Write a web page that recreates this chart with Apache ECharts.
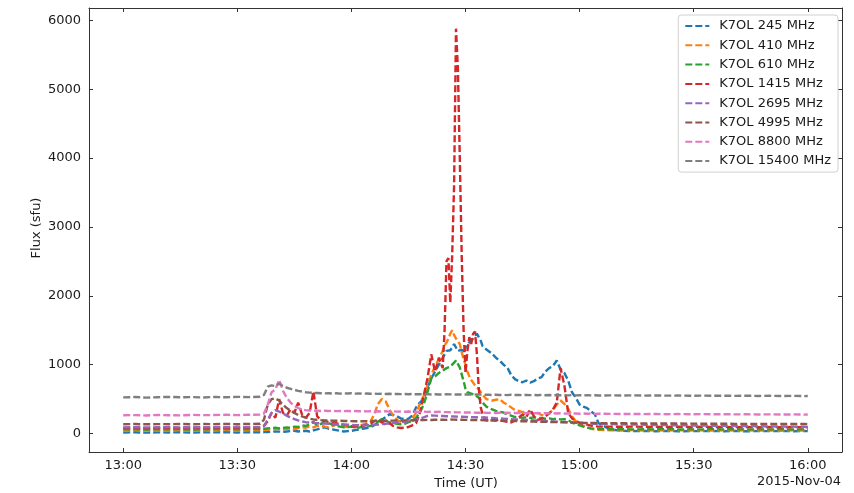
<!DOCTYPE html>
<html>
<head>
<meta charset="utf-8">
<script src="https://cdn.jsdelivr.net/npm/echarts@6/dist/echarts.min.js"></script>
<style>
html,body{margin:0;padding:0;background:#fff;}
#chart{width:854px;height:493px;}
</style>
</head>
<body>
<div id="chart"></div>
<script>
// time in minutes after 13:00 UT
const timeMin = [
  0,3,6,9,12,15,18,21,24,27,30,33,36,
  37,38,39,40,41,42,43,44,45,46,
  47,48,49,50,51,52,53,54,55,56,
  57,58,59,60,61,62,63,64,65,66,
  67,68,69,70,71,72,73,74,75,76,
  77,78,79,80,81,82,83,
  84,84.5,85,85.5,86,86.5,87,87.5,88,88.5,89,89.5,90,90.5,91,91.5,92,92.5,93,93.5,94,94.5,95,95.5,
  96,97,98,99,100,101,102,103,104,105,106,107,108,109,110,111,112,113,114,115,116,117,118,119,120,121,122,123,124,125,
  128,131,134,137,140,143,146,149,152,155,158,161,164,167,170,173,176,179,180
];
const xTickValues = [0,30,60,90,120,150,180];
const xTickLabels = ['13:00','13:30','14:00','14:30','15:00','15:30','16:00'];
const yTickValues = [0,1000,2000,3000,4000,5000,6000];
const yTickLabels = ['0','1000','2000','3000','4000','5000','6000'];
const seriesNames = ['K7OL 245 MHz','K7OL 410 MHz','K7OL 610 MHz','K7OL 1415 MHz','K7OL 2695 MHz','K7OL 4995 MHz','K7OL 8800 MHz','K7OL 15400 MHz'];
const seriesColors = ['#1f77b4','#ff7f0e','#2ca02c','#d62728','#9467bd','#8c564b','#e377c2','#7f7f7f'];

const flux245 = [
  15,18,13,17,16,19,14,18,17,20,16,19,18,
  20,22,25,30,28,25,30,35,40,30,
  35,40,30,45,60,80,90,70,60,50,
  40,30,35,40,50,60,70,80,90,120,
  160,200,240,280,270,250,220,210,215,260,
  380,450,500,670,800,900,1000,
  1100,1150,1200,1180,1210,1250,1300,1250,1200,1180,1220,1160,1250,1300,1320,1350,1380,1420,1450,1400,1350,1270,1250,1220,
  1200,1160,1100,1060,1000,960,850,790,760,745,770,740,760,800,820,900,950,980,1060,930,880,770,600,520,420,390,370,320,280,150,
  60,40,35,38,34,37,33,36,35,38,34,37,33,36,35,38,34,37,35
];
const flux410 = [
  45,48,43,47,46,49,44,48,47,50,46,49,48,
  50,55,60,70,65,60,70,75,60,80,
  90,85,100,90,110,120,100,90,110,130,
  110,100,95,100,90,110,130,150,170,280,
  430,500,470,350,260,200,165,160,175,220,
  300,430,550,700,850,980,1080,
  1200,1280,1320,1380,1450,1500,1430,1380,1360,1300,1180,1080,1000,900,830,780,740,700,680,640,600,560,530,500,
  500,480,490,500,450,420,380,340,330,310,320,300,290,300,270,265,300,340,420,480,430,360,250,180,140,110,90,70,60,55,
  48,45,50,44,47,43,49,45,46,42,48,44,47,43,45,41,46,44,45
];
const flux610 = [
  60,63,58,62,61,64,59,63,62,65,61,64,66,
  70,75,80,85,75,80,90,85,100,95,
  120,110,130,170,120,140,180,150,130,110,
  100,90,95,100,90,85,100,110,110,130,
  170,210,190,160,150,140,135,140,165,185,
  230,305,420,600,800,830,880,
  915,930,950,960,970,1000,1030,1060,1040,960,860,760,650,600,590,580,575,560,560,520,480,450,420,390,
  380,350,330,315,305,280,260,240,235,230,235,225,235,230,225,215,220,210,215,205,210,195,160,137,120,100,85,75,70,65,
  62,64,60,63,61,65,59,62,60,64,61,63,59,62,60,63,58,61,60
];
const flux1415 = [
  80,83,78,82,85,79,84,81,86,82,85,88,90,
  110,180,300,230,500,300,260,350,300,450,
  280,230,300,610,250,200,180,170,160,150,
  140,130,120,110,105,100,110,130,140,180,
  200,160,130,150,110,90,80,85,95,120,
  150,300,550,800,1150,900,1100,
  950,1500,2500,2550,1900,2600,3600,5880,5300,4000,2600,1500,880,1200,1400,1300,1450,1480,1150,650,380,280,220,190,
  185,200,190,210,180,170,160,190,230,280,240,350,250,200,210,250,290,350,450,950,700,300,220,180,160,140,130,115,105,100,
  100,98,101,97,99,96,100,95,98,94,97,93,96,92,95,91,94,90,93
];
const flux2695 = [
  90,92,89,91,93,90,92,91,94,92,95,93,96,
  110,200,300,340,320,290,260,230,210,190,
  175,165,160,155,150,147,144,141,138,135,
  133,130,128,125,122,120,118,118,122,126,
  130,136,142,148,155,160,165,170,180,190,
  200,215,235,255,262,260,256,
  255,258,252,256,250,254,248,252,246,250,244,248,242,245,240,243,238,241,236,239,234,237,232,235,
  230,226,222,219,216,213,210,206,203,200,197,194,191,188,185,182,179,176,173,170,167,164,161,158,155,152,149,146,143,140,
  137,134,131,128,125,122,120,118,116,114,112,110,108,106,104,102,100,98,96
];
const flux4995 = [
  135,138,134,137,136,139,135,138,137,140,136,139,142,
  200,420,500,510,480,420,370,330,300,270,
  250,230,215,205,200,195,192,190,188,186,
  185,183,182,180,179,180,178,180,179,182,
  184,186,185,188,187,190,189,192,191,194,
  193,196,195,198,197,200,199,
  200,202,199,201,203,200,202,199,201,198,200,197,199,196,198,195,197,194,196,193,195,192,194,191,
  192,190,189,187,186,184,183,181,180,178,177,175,174,172,171,170,168,167,166,164,163,162,160,159,158,156,155,154,153,152,
  150,149,148,147,146,146,145,144,143,143,142,141,141,140,139,139,138,138,137
];
const flux8800 = [
  265,268,262,270,266,264,271,267,269,272,268,273,275,
  290,420,600,640,780,620,520,450,400,370,
  350,340,335,330,332,328,331,327,330,326,
  329,325,328,324,327,323,326,322,325,321,
  324,320,323,319,322,318,321,317,320,316,
  319,315,318,314,317,313,316,
  312,315,311,314,310,313,309,312,308,311,307,310,306,309,305,308,304,307,303,306,302,305,301,304,
  300,303,299,302,298,301,297,300,296,299,295,298,294,297,293,296,292,295,291,294,290,293,289,292,288,291,287,290,286,289,
  286,283,285,282,284,281,283,280,282,279,281,278,280,277,279,276,278,275,277
];
const flux15400 = [
  525,530,522,528,532,526,530,524,531,527,533,529,535,
  560,680,700,690,725,690,665,650,635,620,
  610,600,595,590,588,585,583,586,582,585,
  580,584,582,585,580,583,578,581,577,580,
  576,579,575,578,573,576,572,575,571,574,
  570,573,569,572,568,571,567,
  568,565,570,566,569,564,568,565,567,563,566,562,567,564,566,561,565,562,566,563,565,561,564,560,
  563,560,564,559,562,558,563,559,561,557,562,558,560,556,561,557,559,555,560,556,558,554,559,555,557,553,558,554,556,552,
  555,552,554,551,553,550,552,549,551,548,550,547,549,546,548,545,547,544,546
];
const allFlux = [flux245, flux410, flux610, flux1415, flux2695, flux4995, flux8800, flux15400];

const FONT = 'DejaVu Sans';
const TXT = '#1a1a1a';
const AX = '#333';

const chart = echarts.init(document.getElementById('chart'), null, {renderer: 'canvas'});

const series = seriesNames.map((name, k) => ({
  name: name,
  type: 'line',
  data: timeMin.map((t, i) => [t, allFlux[k][i]]),
  showSymbol: false,
  symbol: 'none',
  smooth: false,
  animation: false,
  color: seriesColors[k],
  lineStyle: {color: seriesColors[k], width: 2.4, type: [7, 3]},
  xAxisIndex: 0,
  yAxisIndex: 0
}));

const option = {
  animation: false,
  backgroundColor: '#fff',
  grid: {left: 89, right: 12, top: 8, bottom: 41, containLabel: false},
  xAxis: [{
    type: 'value', min: -9, max: 189, position: 'bottom',
    axisLine: {show: true, onZero: false, lineStyle: {color: AX, width: 1}},
    axisTick: {show: true, inside: true, length: 4, lineStyle: {color: AX}, customValues: xTickValues},
    axisLabel: {show: true, customValues: xTickValues, color: TXT, fontFamily: FONT, fontSize: 13, margin: 7,
      formatter: v => xTickLabels[xTickValues.indexOf(v)] || ''},
    splitLine: {show: false}
  }, {
    type: 'value', min: -9, max: 189, position: 'top',
    axisLine: {show: true, onZero: false, lineStyle: {color: AX, width: 1}},
    axisTick: {show: true, inside: true, length: 4, lineStyle: {color: AX}, customValues: xTickValues},
    axisLabel: {show: false},
    splitLine: {show: false}
  }],
  yAxis: [{
    type: 'value', min: -268, max: 6180, position: 'left',
    axisLine: {show: true, onZero: false, lineStyle: {color: AX, width: 1}},
    axisTick: {show: true, inside: true, length: 4, lineStyle: {color: AX}, customValues: yTickValues},
    axisLabel: {show: true, customValues: yTickValues, color: TXT, fontFamily: FONT, fontSize: 13, margin: 8,
      formatter: v => yTickLabels[yTickValues.indexOf(v)] || ''},
    splitLine: {show: false}
  }, {
    type: 'value', min: -268, max: 6180, position: 'right',
    axisLine: {show: true, onZero: false, lineStyle: {color: AX, width: 1}},
    axisTick: {show: true, inside: true, length: 4, lineStyle: {color: AX}, customValues: yTickValues},
    axisLabel: {show: false},
    splitLine: {show: false}
  }],
  legend: {
    show: true, orient: 'vertical', right: 16, top: 15,
    data: seriesNames,
    itemWidth: 24, itemHeight: 10, itemGap: 5.3,
    padding: [4, 7, 4, 6],
    borderColor: '#d0d0d0', borderWidth: 1, borderRadius: 3,
    backgroundColor: 'rgba(255,255,255,0.85)',
    itemStyle: {opacity: 0},
    textStyle: {color: TXT, fontFamily: FONT, fontSize: 13, lineHeight: 14, padding: [0, 0, 0, 5]}
  },
  graphic: [{
    type: 'text', x: 37, y: 228, rotation: Math.PI / 2,
    style: {text: 'Flux (sfu)', fill: TXT, font: '13px "DejaVu Sans"', align: 'center', verticalAlign: 'middle'}
  }, {
    type: 'text', x: 466, y: 484,
    style: {text: 'Time (UT)', fill: TXT, font: '13px "DejaVu Sans"', align: 'center', verticalAlign: 'middle'}
  }, {
    type: 'text', x: 841, y: 482,
    style: {text: '2015-Nov-04', fill: TXT, font: '13px "DejaVu Sans"', align: 'right', verticalAlign: 'middle'}
  }],
  series: series
};
chart.setOption(option);
</script>
</body>
</html>
